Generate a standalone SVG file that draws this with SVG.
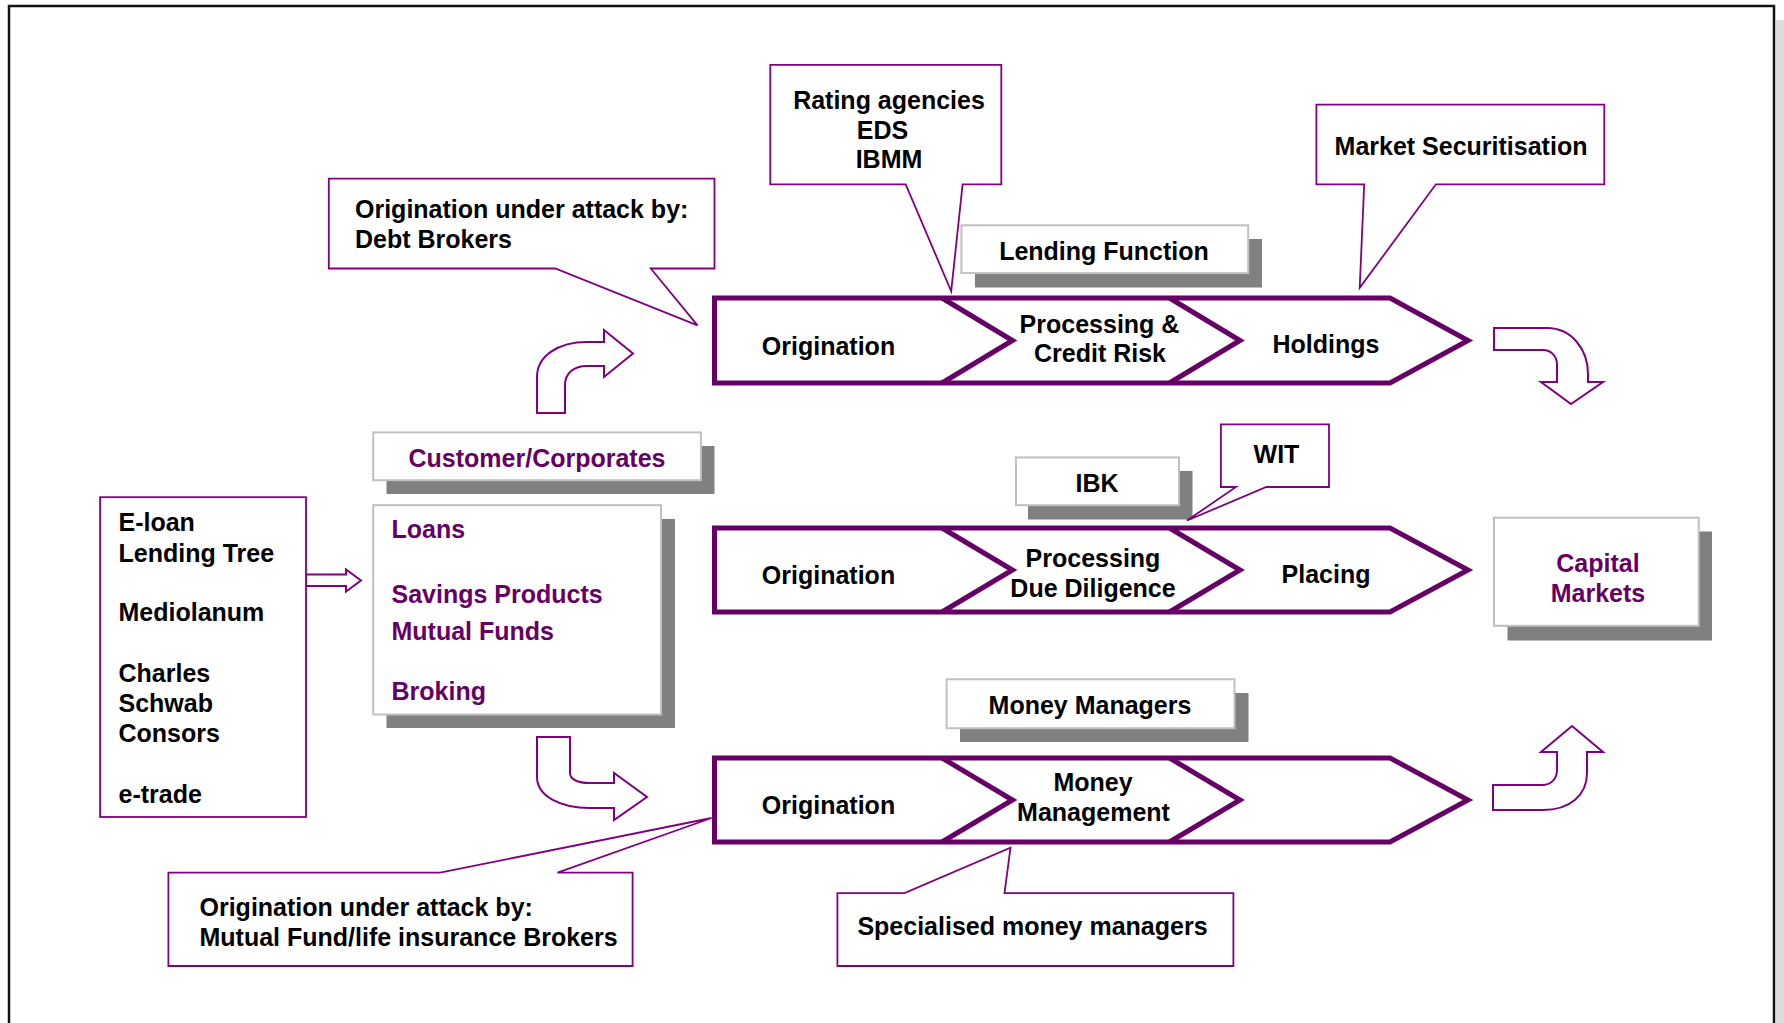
<svg xmlns="http://www.w3.org/2000/svg" width="1784" height="1023" viewBox="0 0 1784 1023">
<style>
text{font-family:"Liberation Sans",Arial,Helvetica,sans-serif;font-weight:bold;font-size:25px;fill:#000}
.c{text-anchor:middle}
.p{fill:#660066}
.callout{fill:#fff;stroke:#800080;stroke-width:1.8;stroke-linejoin:miter}
.chev{fill:#fff;stroke:#660066;stroke-width:5;stroke-linejoin:miter}
.div{fill:none;stroke:#660066;stroke-width:5;stroke-linejoin:miter}
.shadow{fill:#808080}
.box{fill:#fff;stroke:#c0c0c0;stroke-width:2}
.barrow{fill:#fff;stroke:#800080;stroke-width:2;stroke-linejoin:miter}
</style>
<rect x="0" y="0" width="1784" height="1023" fill="#fff"/>
<rect x="1776" y="20" width="8" height="1003" fill="#dcdcdc"/>
<path d="M9,1023 V6 H1774 V1023" fill="none" stroke="#111" stroke-width="2.5"/>

<g id="connectors">
<path class="barrow" d="M306,574.5 H346 V569.5 L361,580.5 L346,591.5 V586 H306 Z"/>
<path class="barrow" d="M537,413 L537,377 C537,356 558,342 587,342 L604,342 L604,330 L633,353.5 L604,377 L604,366 L587,366 C574,366 565,373 565,385 L565,413 Z"/>
<path class="barrow" d="M537,737 L570,737 L570,773 C570,779 577,783 590,783 L614,783 L614,773 L647,797 L614,820 L614,808 L590,808 C560,808 537,796 537,777 Z"/>
<path class="barrow" d="M1494,328 L1547,328 C1572,328 1588,350 1588,374 L1588,382 L1603,382 L1571,404 L1541,382 L1557,382 L1557,365 C1557,356 1551,350 1543,350 L1494,350 Z"/>
<path class="barrow" d="M1493,810 L1543,810 C1570,810 1587,795 1587,773 L1587,752 L1603,752 L1572,726 L1541,752 L1557,752 L1557,770 C1557,779 1551,785 1542,785 L1493,785 Z"/>
</g>

<g id="chevron-lending">
<path class="chev" d="M714.5,298 L1390,298 L1468,340.5 L1390,383 L714.5,383 Z"/>
<path class="div" d="M942,298 L1012.5,340.5 L942,383"/>
<path class="div" d="M1169.5,298 L1240,340.5 L1169.5,383"/>
<text class="c" x="828.5" y="354.5">Origination</text>
<text class="c" x="1099.5" y="332.5">Processing &amp;</text>
<text class="c" x="1100" y="361.5">Credit Risk</text>
<text class="c" x="1326" y="352.5">Holdings</text>
</g>

<g id="chevron-ibk">
<path class="chev" d="M714.5,528 L1390,528 L1468,570 L1390,612 L714.5,612 Z"/>
<path class="div" d="M942,528 L1012.5,570 L942,612"/>
<path class="div" d="M1169.5,528 L1240,570 L1169.5,612"/>
<text class="c" x="828.5" y="584">Origination</text>
<text class="c" x="1093" y="566.5">Processing</text>
<text class="c" x="1093" y="597">Due Diligence</text>
<text class="c" x="1326" y="583">Placing</text>
</g>

<g id="chevron-money">
<path class="chev" d="M714.5,758 L1390,758 L1468,800 L1390,842 L714.5,842 Z"/>
<path class="div" d="M942,758 L1012.5,800 L942,842"/>
<path class="div" d="M1169.5,758 L1240,800 L1169.5,842"/>
<text class="c" x="828.5" y="814">Origination</text>
<text class="c" x="1093" y="791">Money</text>
<text class="c" x="1093.5" y="821">Management</text>
</g>

<g id="callout-debt-brokers">
<path class="callout" d="M328.8,178.6 H714.5 V268.5 H650.8 L697.5,325.4 L555.2,268.5 H328.8 Z"/>
<text x="355" y="218">Origination under attack by:</text>
<text x="355" y="247.5">Debt Brokers</text>
</g>

<g id="callout-rating">
<path class="callout" d="M770.3,64.9 H1001.3 V184.3 H962.6 L951.2,291.3 L905.7,184.3 H770.3 Z"/>
<text class="c" x="889" y="109">Rating agencies</text>
<text class="c" x="882.5" y="138.5">EDS</text>
<text class="c" x="889" y="168">IBMM</text>
</g>

<g id="callout-market">
<path class="callout" d="M1316.4,104.7 H1604.3 V184.3 H1435.9 L1359.7,287.9 L1364.2,184.3 H1316.4 Z"/>
<text class="c" x="1461" y="154.5">Market Securitisation</text>
</g>

<g id="lending-function">
<rect class="shadow" x="975" y="239" width="287" height="48.5"/>
<rect class="box" x="961.4" y="225.3" width="286.8" height="47.8"/>
<text class="c" x="1104" y="259.5">Lending Function</text>
</g>

<g id="ibk">
<rect class="shadow" x="1028" y="471" width="164.5" height="48.5"/>
<rect class="box" x="1016" y="457.4" width="163" height="47.8"/>
<text class="c" x="1097" y="491.5">IBK</text>
</g>

<g id="callout-wit">
<path class="callout" d="M1220.9,424.4 H1329 V487 H1266.4 L1187,520.5 L1236,487 H1220.9 Z"/>
<text class="c" x="1276.5" y="462.5">WIT</text>
</g>

<g id="capital-markets">
<rect class="shadow" x="1507.5" y="531.5" width="204.5" height="109"/>
<rect class="box" x="1494" y="517.7" width="204.7" height="108.1"/>
<text class="c p" x="1598" y="571.5">Capital</text>
<text class="c p" x="1598" y="602">Markets</text>
</g>

<g id="money-managers">
<rect class="shadow" x="960" y="693" width="288.5" height="49"/>
<rect class="box" x="946.6" y="679.3" width="287.9" height="48.9"/>
<text class="c" x="1090" y="713.5">Money Managers</text>
</g>

<g id="customer-corporates">
<rect class="shadow" x="386.5" y="446" width="328" height="48"/>
<rect class="box" x="373.2" y="432.4" width="327.7" height="47.8"/>
<text class="c p" x="537" y="466.5">Customer/Corporates</text>
</g>

<g id="products">
<rect class="shadow" x="386.5" y="519" width="288.5" height="209"/>
<rect class="box" x="373.2" y="505.2" width="287.8" height="209.3"/>
<text class="p" x="391.5" y="538">Loans</text>
<text class="p" x="391.5" y="602.5">Savings Products</text>
<text class="p" x="391.5" y="640">Mutual Funds</text>
<text class="p" x="391.5" y="700">Broking</text>
</g>

<g id="competitors">
<rect x="100.1" y="497.2" width="205.9" height="319.8" fill="#fff" stroke="#800080" stroke-width="1.8"/>
<text x="118.5" y="531">E-loan</text>
<text x="118.5" y="561.5">Lending Tree</text>
<text x="118.5" y="621">Mediolanum</text>
<text x="118.5" y="682">Charles</text>
<text x="118.5" y="712">Schwab</text>
<text x="118.5" y="742">Consors</text>
<text x="118.5" y="802.5">e-trade</text>
</g>

<g id="callout-mutual-fund">
<path class="callout" d="M168.4,872.7 H440 L711.5,818 L557.5,872.7 H632.6 V966 H168.4 Z"/>
<text x="199.5" y="915.5">Origination under attack by:</text>
<text x="199.5" y="945.5">Mutual Fund/life insurance Brokers</text>
</g>

<g id="callout-specialised">
<path class="callout" d="M837.4,893.2 H904.5 L1010.5,847.7 L1004.5,893.2 H1233.4 V966 H837.4 Z"/>
<text class="c" x="1032.5" y="935">Specialised money managers</text>
</g>
</svg>
